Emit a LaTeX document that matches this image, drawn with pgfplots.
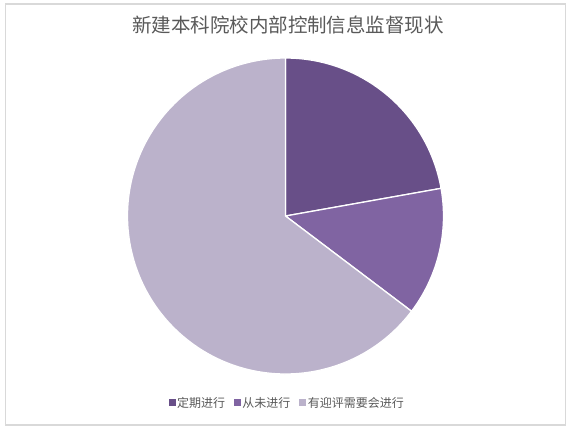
\documentclass[border=0pt]{standalone}
\usepackage{fontspec}
\setmainfont{Noto Sans CJK SC}
\usepackage{pgfplots}
\usepackage{pgfplotstable}
\pgfplotsset{compat=1.18}

\definecolor{sliceA}{HTML}{684F88}
\definecolor{sliceB}{HTML}{8064A2}
\definecolor{sliceC}{HTML}{BBB2CB}
\definecolor{txtgray}{HTML}{595959}
\definecolor{framegray}{HTML}{D9D9D9}

\pgfplotstableread{
idx value
0 22.2
1 13.1
2 64.7
}\piedata

\begin{document}
\begin{tikzpicture}
\pgfplotstablegetelem{0}{value}\of\piedata \let\va\pgfplotsretval
\pgfplotstablegetelem{1}{value}\of\piedata \let\vb\pgfplotsretval
\pgfplotstablegetelem{2}{value}\of\piedata \let\vc\pgfplotsretval
\pgfmathsetmacro\total{\va+\vb+\vc}
\pgfmathsetmacro\angA{90-360*\va/\total}
\pgfmathsetmacro\angB{\angA-360*\vb/\total}
\begin{axis}[
    x=1pt, y=1pt,
    xmin=0, xmax=571, ymin=0, ymax=432,
    hide axis, clip=false,
    anchor=origin, at={(0pt,0pt)},
    legend columns=3,
    legend style={draw=none, fill=none, at={(0.503,0.067)}, anchor=center,
        font=\fontsize{12}{13}\selectfont, text=txtgray,
        /tikz/every even column/.append style={column sep=7pt}},
    legend image code/.code={\fill[#1] (0pt,-2.5pt) rectangle (6pt,3.5pt);},
]
\draw[framegray, line width=1.2pt] (axis cs:5.5,7) rectangle (axis cs:565.5,428);

\filldraw[fill=sliceA, draw=white, line width=1.3pt] (axis cs:285.5,216) -- ([shift={(90:158pt)}]axis cs:285.5,216) arc[start angle=90, end angle=\angA, radius=158pt] -- cycle;
\filldraw[fill=sliceB, draw=white, line width=1.3pt] (axis cs:285.5,216) -- ([shift={(\angA:158pt)}]axis cs:285.5,216) arc[start angle=\angA, end angle=\angB, radius=158pt] -- cycle;
\filldraw[fill=sliceC, draw=white, line width=1.3pt] (axis cs:285.5,216) -- ([shift={(\angB:158pt)}]axis cs:285.5,216) arc[start angle=\angB, end angle=-270, radius=158pt] -- cycle;

\node[font=\fontsize{19.5}{21}\selectfont, text=txtgray] at (axis cs:288,407) {新建本科院校内部控制信息监督现状};

\addlegendimage{sliceA, fill=sliceA}
\addlegendentry{定期进行}
\addlegendimage{sliceB, fill=sliceB}
\addlegendentry{从未进行}
\addlegendimage{sliceC, fill=sliceC}
\addlegendentry{有迎评需要会进行}
\end{axis}
\pgfresetboundingbox
\path (0pt,0pt) rectangle (571pt,432pt);
\end{tikzpicture}
\end{document}
